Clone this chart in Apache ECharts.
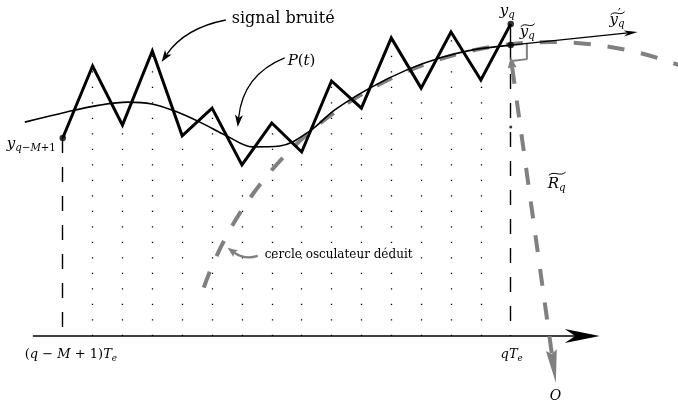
<!DOCTYPE html>
<html>
<head>
<meta charset="utf-8">
<script src="https://cdn.jsdelivr.net/npm/echarts@6/dist/echarts.min.js"></script>
<style>
html, body { margin: 0; padding: 0; background: #fff; }
#chart { width: 678px; height: 407px; }
</style>
</head>
<body>
<div id="chart"></div>
<script>
// Sample instants, in units of Te counted from (q-M+1)Te, and the noisy samples
const sampleIndex = [0, 1, 2, 3, 4, 5, 6, 7, 8, 9, 10, 11, 12, 13, 14, 15];
const noisySignal = [6.63, 9.04, 7.06, 9.54, 6.70, 7.63, 5.73, 7.13, 6.16, 8.54, 7.63, 9.98, 8.30, 10.18, 8.57, 10.45];

// Fitted polynomial P(t)
const trendT = [-1.27, 0.13, 1.24, 2.18, 2.98, 3.75, 4.59, 5.49, 6.36, 7.27, 8.27, 9.11, 10.28, 11.52, 12.62, 13.73, 15];
const trendP = [7.16, 7.50, 7.73, 7.83, 7.77, 7.53, 7.16, 6.70, 6.33, 6.36, 6.86, 7.57, 8.30, 8.91, 9.31, 9.58, 9.74];

// Tangent to P at qTe (derivative estimate)
const tangentEnd = [19.25, 10.18];

// Osculating circle: centre O, radius, and the drawn part of the arc
const circleCenter = [16.34, -2.48];
const circleRadius = 12.32;
const circleArc = [[4.75, 1.61], [20.83, 8.9]];
const radiusVector = [[15, 9.34], [16.51, -1.57]];
const rightAngle = [[15.54, 9.78], [15.54, 9.27], [15.03, 9.21]];

// Time axis and the small mark on the qTe line
const timeAxis = [[-1.0, 0], [17.98, 0]];
const midMark = [15, 7.0];

const GRAY = '#808080';
const SERIF = '"DejaVu Serif", serif';
const last = noisySignal.length - 1;
const yTilde = trendP[trendP.length - 1];

// Arrows: straight (2 points) or quadratic (from, control, to)
const arrowDefs = [
  { pts: timeAxis, color: '#000', width: 1.4, head: [35, 14, 0.3] },
  { pts: [[15, yTilde], tangentEnd], color: '#000', width: 1.3, head: [14, 6, 0.3] },
  { pts: [[5.46, 10.58], [4.08, 10.31], [3.31, 9.17]], color: '#000', width: 1.3, head: [12, 8, 0.25] },
  { pts: [[7.43, 9.31], [6.03, 8.74], [5.86, 7.0]], color: '#000', width: 1.3, head: [12, 8, 0.25] },
  { pts: [[6.53, 2.68], [6.09, 2.54], [5.52, 2.95]], color: GRAY, width: 2.2, head: [10, 8, 0.2] },
  { pts: radiusVector, color: GRAY, width: 4, dash: [17, 17], head: [33, 11, 0.12], tail: [11, 9, 0.1] }
];

// Text labels: anchor (left, middle of main line) and pieces
const labelDefs = [
  { at: [5.66, 10.61], size: 16, parts: [['signal bruité', 'r']] },
  { at: [6.76, 2.71], size: 12, parts: [['cercle osculateur déduit', 'r']] },
  { at: [7.53, 9.21], size: 15, parts: [['P', 'i'], ['(', 'r'], ['t', 'i'], [')', 'r']] },
  { at: [-1.87, 6.43], size: 15, parts: [['y', 'i'], ['q', 'si'], ['−', 'sr'], ['M', 'si'], ['+', 'sr'], ['1', 'sr']] },
  { at: [14.63, 10.88], size: 15, parts: [['y', 'i'], ['q', 'si']] },
  { at: [15.30, 10.18], size: 15, parts: [['y', 'i'], ['q', 'si']], tilde: 0.45 },
  { at: [18.31, 10.58], size: 15, parts: [['y', 'i'], ['′', 'sup'], ['q', 'si', true]], tilde: 0.45 },
  { at: [16.24, 5.09], size: 15, parts: [['R', 'i'], ['q', 'si']], tilde: 0.68 },
  { at: [-1.27, -0.64], size: 13, parts: [['(', 'r'], ['q', 'i'], [' − ', 'r'], ['M', 'i'], [' + ', 'r'], ['1)', 'r'], ['T', 'i'], ['e', 'si']] },
  { at: [14.66, -0.64], size: 13, parts: [['q', 'i'], ['T', 'i'], ['e', 'si']] },
  { at: [16.31, -2.01], size: 14, parts: [['O', 'i']] }
];

const measureCtx = document.createElement('canvas').getContext('2d');
function textWidth(text, font) {
  measureCtx.font = font;
  return measureCtx.measureText(text).width;
}

function renderLabel(params, api) {
  const L = labelDefs[params.dataIndex];
  const p = api.coord(L.at);
  const S = L.size;
  const children = [];
  let x = p[0], prevX = p[0];
  for (const part of L.parts) {
    const [text, kind, stack] = part;
    let size = S, italic = false, dy = 0;
    if (kind === 'i') italic = true;
    if (kind === 'si') { italic = true; size = S * 0.68; dy = S * 0.28; }
    if (kind === 'sr') { size = S * 0.68; dy = S * 0.28; }
    if (kind === 'sup') { size = S * 0.8; dy = -S * 0.32; }
    const font = (italic ? 'italic ' : '') + size.toFixed(1) + 'px ' + SERIF;
    const px = stack ? prevX : x;
    children.push({
      type: 'text', x: px, y: p[1] + dy,
      style: { text: text, font: font, fill: '#000', align: 'left', verticalAlign: 'middle' }
    });
    prevX = px;
    x = Math.max(x, px + textWidth(text, font));
  }
  if (L.tilde) {
    const x0 = p[0] + 1, w = x - p[0] - 1, yt = p[1] - S * L.tilde;
    children.push({
      type: 'bezierCurve',
      shape: { x1: x0, y1: yt + 1.5, cpx1: x0 + w * 0.35, cpy1: yt - 3.5, cpx2: x0 + w * 0.65, cpy2: yt + 3.5, x2: x0 + w, y2: yt - 1.5 },
      style: { stroke: '#000', lineWidth: 1, fill: 'none' }
    });
  }
  return { type: 'group', children: children };
}

function headPolygon(tip, ux, uy, spec, color) {
  const [len, wid, notch] = spec;
  const nx = -uy, ny = ux;
  const bx = tip[0] - ux * len, by = tip[1] - uy * len;
  const mx = tip[0] - ux * len * (1 - notch), my = tip[1] - uy * len * (1 - notch);
  return {
    el: {
      type: 'polygon',
      shape: { points: [tip, [bx + nx * wid / 2, by + ny * wid / 2], [mx, my], [bx - nx * wid / 2, by - ny * wid / 2]] },
      style: { fill: color, stroke: null }
    },
    notch: [mx, my]
  };
}

function renderArrow(params, api) {
  const d = arrowDefs[params.dataIndex];
  const P = d.pts.map(pt => api.coord(pt));
  const start = P[0], end = P[P.length - 1];
  const before = P[P.length - 2];
  let dx = end[0] - before[0], dy = end[1] - before[1], n = Math.hypot(dx, dy);
  const head = headPolygon(end, dx / n, dy / n, d.head, d.color);
  const children = [head.el];
  let s = start;
  if (d.tail) {
    const after = P[1];
    let tx = start[0] - after[0], ty = start[1] - after[1], tn = Math.hypot(tx, ty);
    const tail = headPolygon(start, tx / tn, ty / tn, d.tail, d.color);
    children.push(tail.el);
    s = tail.notch;
  }
  const stroke = { stroke: d.color, lineWidth: d.width, fill: 'none', lineDash: d.dash || null };
  if (P.length === 3) {
    children.push({
      type: 'bezierCurve',
      shape: { x1: s[0], y1: s[1], cpx1: P[1][0], cpy1: P[1][1], x2: head.notch[0], y2: head.notch[1] },
      style: stroke
    });
  } else {
    children.push({
      type: 'line',
      shape: { x1: s[0], y1: s[1], x2: head.notch[0], y2: head.notch[1] },
      style: stroke
    });
  }
  return { type: 'group', children: children };
}

function renderCircle(params, api) {
  const c = api.coord(circleCenter);
  const r = api.size([circleRadius, 0])[0];
  const a = api.coord(circleArc[0]);
  const b = api.coord(circleArc[1]);
  return {
    type: 'arc',
    shape: {
      cx: c[0], cy: c[1], r: r,
      startAngle: Math.atan2(a[1] - c[1], a[0] - c[0]),
      endAngle: Math.atan2(b[1] - c[1], b[0] - c[0]),
      clockwise: true
    },
    style: { stroke: GRAY, lineWidth: 4, lineDash: [17, 17], fill: 'none' }
  };
}

const chart = echarts.init(document.getElementById('chart'), null, { renderer: 'canvas' });
chart.setOption({
  backgroundColor: '#fff',
  animation: false,
  grid: { left: 0, right: 0, top: 0, bottom: 0 },
  xAxis: { type: 'value', min: -2.1, max: 20.6, show: false },
  yAxis: { type: 'value', min: -2.38, max: 11.25, show: false },
  series: [
    {
      // dotted sampling instants
      type: 'lines', coordinateSystem: 'cartesian2d', z: 1,
      lineStyle: { color: '#000', width: 1.3, type: [1.3, 14.2], opacity: 1 },
      data: sampleIndex.slice(1, last).map(k => ({ coords: [[k, 0], [k, noisySignal[k]]] }))
    },
    {
      // dashed bounds of the window
      type: 'lines', coordinateSystem: 'cartesian2d', z: 1,
      lineStyle: { color: '#000', width: 1.4, type: [15, 14], opacity: 1 },
      data: [
        { coords: [[sampleIndex[0], noisySignal[0]], [sampleIndex[0], 0]] },
        { coords: [[sampleIndex[last], yTilde], [sampleIndex[last], 0]] }
      ]
    },
    {
      type: 'lines', coordinateSystem: 'cartesian2d', z: 3,
      lineStyle: { color: '#000', width: 1.4, type: 'solid', opacity: 1 },
      data: [{ coords: [[sampleIndex[last], noisySignal[last]], [sampleIndex[last], yTilde]] }]
    },
    {
      type: 'custom', z: 2, renderItem: renderCircle,
      data: [[circleCenter[0], circleCenter[1]]], encode: { x: 0, y: 1 }
    },
    {
      type: 'line', z: 2, symbol: 'none', data: rightAngle,
      lineStyle: { color: GRAY, width: 2 }
    },
    {
      // fitted polynomial
      type: 'line', z: 3, symbol: 'none', smooth: 0.35,
      data: trendT.map((t, i) => [t, trendP[i]]),
      lineStyle: { color: '#000', width: 1.6 }
    },
    {
      // noisy signal
      type: 'line', z: 4, symbol: 'none',
      data: sampleIndex.map((k, i) => [k, noisySignal[i]]),
      lineStyle: { color: '#000', width: 3, join: 'miter', miterLimit: 12 }
    },
    {
      type: 'custom', z: 5, renderItem: renderArrow,
      data: arrowDefs.map((d, i) => [d.pts[0][0], d.pts[0][1], i]), encode: { x: 0, y: 1 }
    },
    {
      type: 'scatter', z: 6, symbolSize: 6.5,
      itemStyle: { color: '#000' },
      data: [[sampleIndex[0], noisySignal[0]], [sampleIndex[last], noisySignal[last]], [sampleIndex[last], yTilde]]
    },
    {
      type: 'scatter', z: 6, symbolSize: 3,
      itemStyle: { color: '#000' }, data: [midMark]
    },
    {
      type: 'custom', z: 7, renderItem: renderLabel,
      data: labelDefs.map((l, i) => [l.at[0], l.at[1], i]), encode: { x: 0, y: 1 }
    }
  ]
});
</script>
</body>
</html>
